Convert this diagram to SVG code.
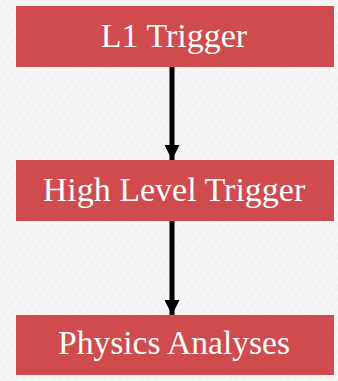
<svg xmlns="http://www.w3.org/2000/svg" width="338" height="381" viewBox="0 0 338 381">
<defs>
<pattern id="tex" width="6" height="6" patternUnits="userSpaceOnUse" patternTransform="rotate(35)">
<rect width="6" height="6" fill="#F3F3F3"/>
<line x1="0" y1="0" x2="0" y2="6" stroke="#FAFAFA" stroke-width="2"/>
</pattern>
<marker id="ah" viewBox="0 0 15 15" refX="15" refY="7.5" markerWidth="15" markerHeight="15" markerUnits="userSpaceOnUse" orient="auto">
<path d="M0,0 L15,7.5 L0,15 Z" fill="#000"/>
</marker>
</defs>
<style>
.box{fill:#CF4B4D}
.lbl{font-family:"Liberation Serif","Times New Roman",serif;font-size:34px;fill:#FFFFFF;text-anchor:middle}
.conn{stroke:#000;stroke-width:5;fill:none}
</style>
<rect width="338" height="381" fill="url(#tex)"/>
<g id="connectors">
<line class="conn" x1="172" y1="67" x2="172" y2="160" marker-end="url(#ah)"/>
<line class="conn" x1="172" y1="221" x2="172" y2="315" marker-end="url(#ah)"/>
</g>
<g id="l1">
<rect class="box" x="16" y="6" width="318" height="61"/>
<text class="lbl" x="174" y="47">L1 Trigger</text>
</g>
<g id="hlt">
<rect class="box" x="16" y="160" width="318" height="61"/>
<text class="lbl" x="174" y="201">High Level Trigger</text>
</g>
<g id="pa">
<rect class="box" x="16" y="315" width="318" height="60"/>
<text class="lbl" x="174" y="354" textLength="232" lengthAdjust="spacingAndGlyphs">Physics Analyses</text>
</g>
</svg>
